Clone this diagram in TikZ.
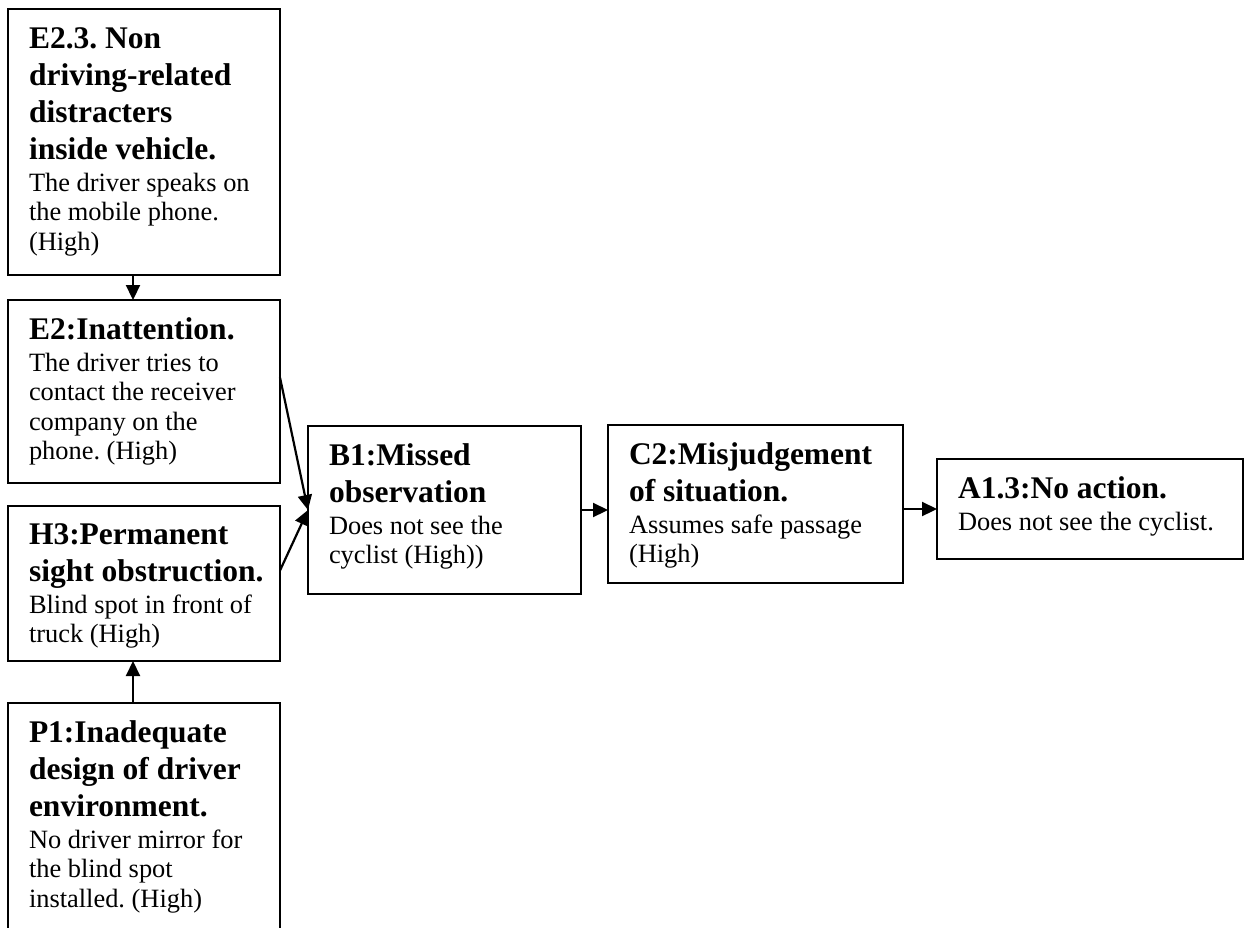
\documentclass[tikz,border=0pt]{standalone}
\usepackage{fontspec}
\setmainfont{Liberation Serif}
\usetikzlibrary{arrows.meta}

% one line of the bold heading, of the first body line, and of a further body line
\newcommand\lnB[1]{\baselineskip=37pt\hbox{\fontsize{31.5pt}{37pt}\selectfont\bfseries #1}}
\newcommand\lnF[1]{\baselineskip=32pt\hbox{\fontsize{26.4pt}{29.5pt}\selectfont #1}}
\newcommand\lnN[1]{\baselineskip=29.5pt\hbox{\fontsize{26.4pt}{29.5pt}\selectfont #1}}

\tikzset{
  factor/.style={draw, line width=2.5pt, rectangle, inner sep=0pt, outer sep=0pt,
                 anchor=north west},
  label text/.style={anchor=base west, inner sep=0pt, outer sep=0pt},
  link/.style={line width=2.2pt, -{Triangle[length=15pt,width=14pt]}},
}

\begin{document}
\frenchspacing
\begin{tikzpicture}[x=1pt, y=-1pt]
\clip (0,0) rectangle (1248,927);
\fill[white] (0,0) rectangle (1248,927);

% boxes
\node[factor, minimum width=272pt, minimum height=266pt] (e23) at (8,9) {};
\node[factor, minimum width=272pt, minimum height=183pt] (e2)  at (8,300) {};
\node[factor, minimum width=272pt, minimum height=155pt] (h3)  at (8,506) {};
\node[factor, minimum width=272pt, minimum height=260pt] (p1)  at (8,703) {};
\node[factor, minimum width=273pt, minimum height=168pt] (b1)  at (308,426) {};
\node[factor, minimum width=295pt, minimum height=158pt] (c2)  at (608,425) {};
\node[factor, minimum width=306pt, minimum height=100pt] (a13) at (937,459) {};

% texts
\node[label text] (e23t) at ([shift={(21,39)}]e23.north west) {\vtop{%
  \lnB{E2.3. Non}\lnB{driving-related}\lnB{distracters}\lnB{inside vehicle.}%
  \lnF{The driver speaks on}\lnN{the mobile phone.}\lnN{(High)}}};
\node[label text] (e2t) at ([shift={(21,39)}]e2.north west) {\vtop{%
  \lnB{E2:Inattention.}%
  \lnF{The driver tries to}\lnN{contact the receiver}\lnN{company on the}\lnN{phone. (High)}}};
\node[label text] (h3t) at ([shift={(21,38)}]h3.north west) {\vtop{%
  \lnB{H3:Permanent}\lnB{sight obstruction.}%
  \lnF{Blind spot in front of}\lnN{truck (High)}}};
\node[label text] (p1t) at ([shift={(21,39)}]p1.north west) {\vtop{%
  \lnB{P1:Inadequate}\lnB{design of driver}\lnB{environment.}%
  \lnF{No driver mirror for}\lnN{the blind spot}\lnN{installed. (High)}}};
\node[label text] (b1t) at ([shift={(21,39)}]b1.north west) {\vtop{%
  \lnB{B1:Missed}\lnB{observation}%
  \lnF{Does not see the}\lnN{cyclist (High))}}};
\node[label text] (c2t) at ([shift={(21,39)}]c2.north west) {\vtop{%
  \lnB{C2:Misjudgement}\lnB{of situation.}%
  \lnF{Assumes safe passage}\lnN{(High)}}};
\node[label text] (a13t) at ([shift={(21,39)}]a13.north west) {\vtop{%
  \lnB{A1.3:No action.}%
  \lnF{Does not see the cyclist.}}};

% connectors
\draw[link] ([xshift=-11pt]e23.south) -- ([xshift=-11pt]e2.north);
\draw[link] ([xshift=-11pt]p1.north) -- ([xshift=-11pt]h3.south);
\draw[link] ([yshift=14pt]e2.east) -- (b1.west);
\draw[link] ([yshift=13pt]h3.east) -- (b1.west);
\draw[link] (b1.east) -- (b1.east -| c2.west);
\draw[link] (a13.west -| c2.east) -- (a13.west);
\end{tikzpicture}
\end{document}
